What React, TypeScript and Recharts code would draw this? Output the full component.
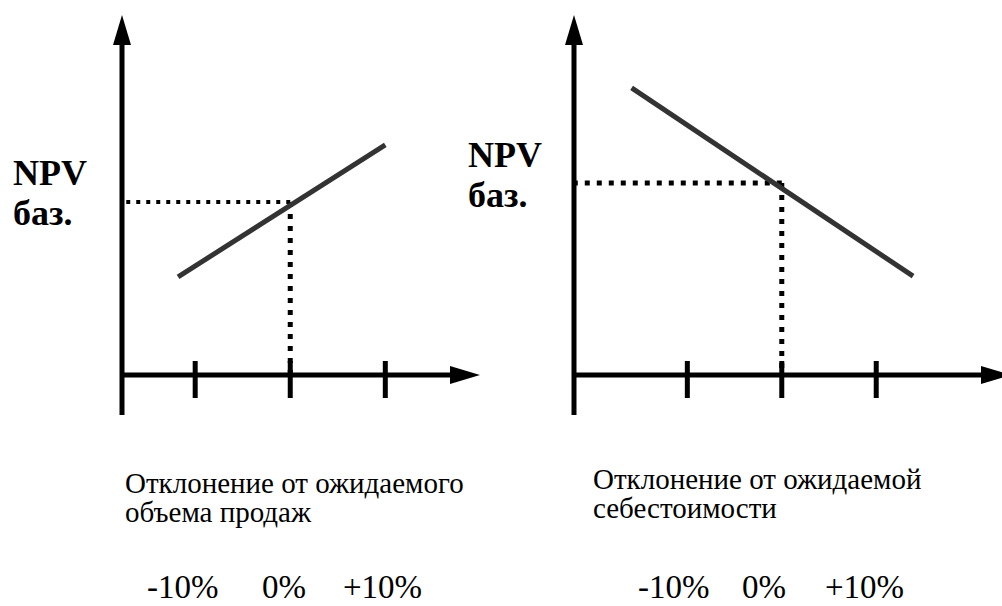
import React from "react";
import { LineChart, Line, XAxis, YAxis, ReferenceLine } from "recharts";

// deviation from the expected value, in %
const tickValues = [-10, 0, 10];
const tickLabels = ["-10%", "0%", "+10%"];

// NPV vs. deviation of the expected sales volume
const salesDeviation = [-11.8, 10];
const salesNpv = [28.2, 66.1];
const salesBaseNpv = 49.7;

// NPV vs. deviation of the expected cost
const costDeviation = [-15.9, 13.9];
const costNpv = [82.5, 28.4];
const costBaseNpv = 55.2;

// axis ranges (the x axis of each chart runs from the y axis to the arrow)
const salesRange = [-17.7, 18.7];
const costRange = [-22, 23];
const npvRange = [0, 100];
const axisTail = -11.5; // y axis continues below the x axis

const serif = '"Liberation Serif", "Times New Roman", Times, serif';

const CrossTick = (props: any) => (
  <line
    x1={props.x}
    x2={props.x}
    y1={props.y - 14}
    y2={props.y + 23}
    stroke="#000"
    strokeWidth={5}
  />
);

interface ChartProps {
  width: number;
  margin: { top: number; right: number; bottom: number; left: number };
  range: number[];
  deviation: number[];
  npv: number[];
  baseNpv: number;
  hDash: string;
  hWidth: number;
}

const SensitivityChart: React.FC<ChartProps> = ({
  width,
  margin,
  range,
  deviation,
  npv,
  baseNpv,
  hDash,
  hWidth,
}) => {
  const data = deviation.map((x, i) => ({ x, npv: npv[i] }));
  return (
    <LineChart width={width} height={606} data={data} margin={margin}>
      <XAxis
        type="number"
        dataKey="x"
        domain={range}
        allowDataOverflow
        ticks={tickValues}
        height={40}
        tickSize={0}
        tickMargin={0}
        tickLine={false}
        tick={CrossTick}
        axisLine={{ stroke: "#000", strokeWidth: 5, markerEnd: "url(#axisArrow)" }}
      />
      <YAxis
        type="number"
        domain={npvRange}
        allowDataOverflow
        width={1}
        tick={false}
        tickLine={false}
        axisLine={{ stroke: "#000", strokeWidth: 5, markerStart: "url(#axisArrow)" }}
      />
      <ReferenceLine
        segment={[
          { x: range[0], y: 0 },
          { x: range[0], y: axisTail },
        ]}
        ifOverflow="visible"
        stroke="#000"
        strokeWidth={5}
      />
      <ReferenceLine
        segment={[
          { x: 0, y: baseNpv },
          { x: range[0], y: baseNpv },
        ]}
        stroke="#000"
        strokeWidth={hWidth}
        strokeDasharray={hDash}
      />
      <ReferenceLine
        segment={[
          { x: 0, y: baseNpv },
          { x: 0, y: 0 },
        ]}
        stroke="#000"
        strokeWidth={5}
        strokeDasharray="5 7"
      />
      <Line
        type="linear"
        dataKey="npv"
        stroke="#333333"
        strokeWidth={5}
        dot={false}
        activeDot={false}
        isAnimationActive={false}
      />
    </LineChart>
  );
};

const leftPct = [147, 262, 343];
const rightPct = [638, 742, 825];

const App: React.FC = () => {
  return (
    <div
      style={{
        position: "absolute",
        left: 0,
        top: 0,
        width: 1002,
        height: 606,
        overflow: "hidden",
        background: "#fff",
      }}
    >
      <svg width={0} height={0} style={{ position: "absolute" }}>
        <defs>
          <marker
            id="axisArrow"
            viewBox="0 0 30 18"
            refX={18}
            refY={9}
            markerWidth={30}
            markerHeight={18}
            markerUnits="userSpaceOnUse"
            orient="auto-start-reverse"
          >
            <path d="M0,0 L30,9 L0,18 Z" fill="#000" />
          </marker>
        </defs>
      </svg>

      <div style={{ position: "absolute", left: 0, top: 0 }}>
        <SensitivityChart
          width={500}
          margin={{ top: 27, right: 32, bottom: 191, left: 121 }}
          range={salesRange}
          deviation={salesDeviation}
          npv={salesNpv}
          baseNpv={salesBaseNpv}
          hDash="4 6"
          hWidth={4}
        />
      </div>
      <div style={{ position: "absolute", left: 460, top: 0 }}>
        <SensitivityChart
          width={560}
          margin={{ top: 27, right: 21, bottom: 191, left: 113 }}
          range={costRange}
          deviation={costDeviation}
          npv={costNpv}
          baseNpv={costBaseNpv}
          hDash="5 7"
          hWidth={5}
        />
      </div>

      <svg
        width={1002}
        height={606}
        style={{
          position: "absolute",
          left: 0,
          top: 0,
          pointerEvents: "none",
          fontFamily: serif,
        }}
        fill="#000"
      >
        <g style={{ fontFamily: serif, fontSize: 36, fontWeight: "bold" }}>
          <text x={13} y={185}>NPV</text>
          <text x={13} y={225}>баз.</text>
          <text x={468} y={167}>NPV</text>
          <text x={468} y={207}>баз.</text>
        </g>
        <g style={{ fontFamily: serif, fontSize: 29 }}>
          <text x={125} y={493}>Отклонение от ожидаемого</text>
          <text x={125} y={522}>объема продаж</text>
          <text x={593} y={489}>Отклонение от ожидаемой</text>
          <text x={593} y={518}>себестоимости</text>
        </g>
        <g style={{ fontFamily: serif, fontSize: 33 }}>
          {tickLabels.map((t, i) => (
            <text key={"l" + i} x={leftPct[i]} y={598}>
              {t}
            </text>
          ))}
          {tickLabels.map((t, i) => (
            <text key={"r" + i} x={rightPct[i]} y={598}>
              {t}
            </text>
          ))}
        </g>
      </svg>
    </div>
  );
};

export default App;
